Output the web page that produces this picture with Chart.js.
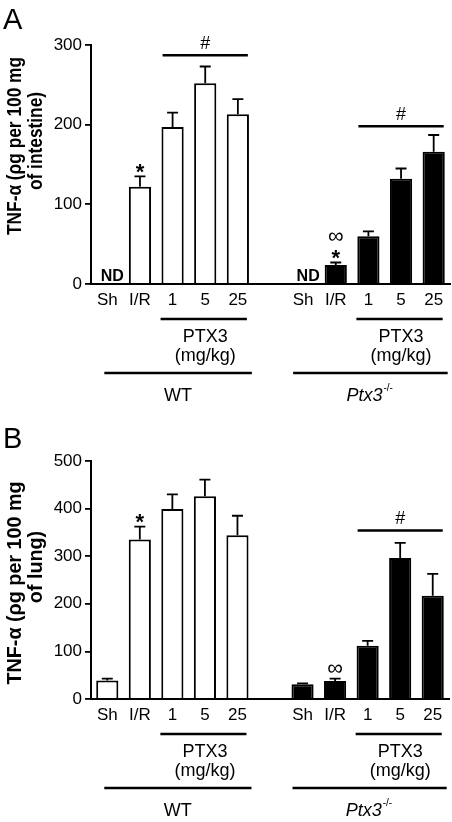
<!DOCTYPE html>
<html>
<head>
<meta charset="utf-8">
<script src="https://cdn.jsdelivr.net/npm/chart.js@4.4.0/dist/chart.umd.min.js"></script>
<style>
  html, body { margin: 0; padding: 0; background: #fff; }
  canvas { display: block; }
</style>
</head>
<body>
<canvas id="panel-a" width="452" height="411"></canvas>
<canvas id="panel-b" width="452" height="411"></canvas>
<script>
// x categories (empty slot separates WT and Ptx3-/- groups)
const categories = ['Sh', 'I/R', '1', '5', '25', '', 'Sh', 'I/R', '1', '5', '25'];

// A: TNF-alpha in intestine (pg per 100 mg); null = not detected
const wtIntestine = [null, 122, 197, 252, 213];
const wtIntestineErr = [0, 13, 18, 21, 19];
const koIntestine = [null, 24, 60, 132, 166];
const koIntestineErr = [0, 3, 6, 13, 21];
const intestineTicks = [0, 100, 200, 300];

// B: TNF-alpha in lung (pg per 100 mg)
const wtLung = [39, 335, 399, 426, 344];
const wtLungErr = [4, 27, 31, 35, 41];
const koLung = [31, 38, 112, 296, 217];
const koLungErr = [2, 5, 10, 32, 46];
const lungTicks = [0, 100, 200, 300, 400, 500];

// significance bars: [first index, last index, level]
const intestineSig = [[2, 4, 287], [8, 10, 198]];
const lungSig = [[8, 10, 354]];

const FONT = "'Liberation Sans', Arial, Helvetica, sans-serif";
Chart.defaults.font.family = FONT;
Chart.defaults.color = '#000';

// pad a 5-value group out to the 11 category slots
function wtSlots(arr) { return arr.concat([null, null, null, null, null, null]); }
function koSlots(arr) { return [null, null, null, null, null, null].concat(arr); }

const figurePlugin = {
  id: 'figure',
  afterDatasetsDraw(chart, args, o) {
    const ctx = chart.ctx;
    const x = chart.scales.x, y = chart.scales.y;
    const area = chart.chartArea;
    ctx.save();
    ctx.strokeStyle = '#000';
    ctx.fillStyle = '#000';

    // error bars (upper only)
    const errTop = {};
    chart.data.datasets.forEach((ds, di) => {
      chart.getDatasetMeta(di).data.forEach((bar, i) => {
        const v = ds.data[i];
        if (v === null || v === undefined) return;
        const top = y.getPixelForValue(v + ds.errors[i]);
        errTop[i] = top;
        ctx.lineWidth = 1.8;
        ctx.beginPath();
        ctx.moveTo(bar.x, bar.y);
        ctx.lineTo(bar.x, top);
        ctx.moveTo(bar.x - 5.5, top);
        ctx.lineTo(bar.x + 5.5, top);
        ctx.stroke();
      });
    });

    // ND for groups without a value
    ctx.font = 'bold 16px ' + FONT;
    ctx.textAlign = 'center';
    ctx.textBaseline = 'alphabetic';
    o.nd.forEach(i => ctx.fillText('ND', x.getPixelForValue(i) + 5, area.bottom - 3));

    // * and ∞ markers stacked above error bars
    o.marks.forEach(m => {
      const cx = x.getPixelForValue(m.index);
      m.text.forEach((t, k) => {
        const c = errTop[m.index] - 10 - 16 * k;
        ctx.textBaseline = 'alphabetic';
        if (t === '*') {
          ctx.font = 'bold 22px ' + FONT;
          ctx.fillText('*', cx, c + 12.5);
        } else {
          ctx.font = '22px ' + FONT;
          ctx.fillText(t, cx, c + 6.5);
        }
      });
    });

    // # significance lines
    o.sig.forEach(s => {
      const x1 = x.getPixelForValue(s[0]) - 10;
      const x2 = x.getPixelForValue(s[1]) + 10;
      const yy = y.getPixelForValue(s[2]);
      ctx.lineWidth = 2.5;
      ctx.beginPath();
      ctx.moveTo(x1, yy);
      ctx.lineTo(x2, yy);
      ctx.stroke();
      ctx.font = '18px ' + FONT;
      ctx.textBaseline = 'alphabetic';
      ctx.fillText('#', (x1 + x2) / 2, yy - 6);
    });

    // dose and genotype labels under the axis
    const b = area.bottom;
    [[2, 4, 0], [8, 10, 6]].forEach((g, gi) => {
      ctx.lineWidth = 2.5;
      ctx.beginPath();
      ctx.moveTo(x.getPixelForValue(g[0]) - 12, b + 35);
      ctx.lineTo(x.getPixelForValue(g[1]) + 9, b + 35);
      ctx.stroke();
      const mid = x.getPixelForValue((g[0] + g[1]) / 2);
      ctx.font = '18px ' + FONT;
      ctx.textBaseline = 'middle';
      ctx.textAlign = 'center';
      ctx.fillText('PTX3', mid, b + 53);
      ctx.fillText('(mg/kg)', mid, b + 72);

      const lx1 = x.getPixelForValue(g[2]) - (gi === 0 ? 3 : 10);
      const lx2 = x.getPixelForValue(g[1]) + 14;
      ctx.beginPath();
      ctx.moveTo(lx1, b + 89);
      ctx.lineTo(lx2, b + 89);
      ctx.stroke();
      const cm = (lx1 + lx2) / 2;
      if (gi === 0) {
        ctx.fillText('WT', cm, b + 112);
      } else {
        ctx.font = 'italic 18px ' + FONT;
        const w = ctx.measureText('Ptx3').width;
        ctx.textAlign = 'left';
        ctx.fillText('Ptx3', cm - w / 2 - 6, b + 112);
        ctx.font = '10px ' + FONT;
        ctx.fillText('-/-', cm + w / 2 - 5, b + 104);
      }
    });

    // panel letter
    ctx.font = '29px ' + FONT;
    ctx.textAlign = 'left';
    ctx.textBaseline = 'top';
    ctx.fillText(o.letter, 3, o.letterTop);

    // y axis title: two rotated lines, same glyph size, squeezed along the line to the printed length
    ctx.font = 'bold ' + o.titleSize + 'px ' + FONT;
    ctx.textAlign = 'center';
    ctx.textBaseline = 'middle';
    const squeeze = o.titleLen / ctx.measureText(o.title[0]).width;
    o.title.forEach((t, k) => {
      ctx.save();
      ctx.translate(o.titleX[k], o.titleY[k]);
      ctx.rotate(-Math.PI / 2);
      ctx.scale(squeeze, 1);
      ctx.fillText(t, 0, 0);
      ctx.restore();
    });
    ctx.restore();
  }
};

function makePanel(id, p) {
  return new Chart(document.getElementById(id), {
    type: 'bar',
    data: {
      labels: categories,
      datasets: [
        {
          label: 'WT',
          data: wtSlots(p.wt),
          errors: wtSlots(p.wtErr),
          backgroundColor: '#fff',
          borderColor: '#000',
          borderWidth: 2,
          grouped: false,
          barPercentage: 0.68,
          categoryPercentage: 1
        },
        {
          label: 'Ptx3-/-',
          data: koSlots(p.ko),
          errors: koSlots(p.koErr),
          backgroundColor: '#000',
          borderColor: '#000',
          borderWidth: 2,
          grouped: false,
          barPercentage: 0.68,
          categoryPercentage: 1
        }
      ]
    },
    options: {
      responsive: false,
      animation: false,
      devicePixelRatio: 1,
      layout: { padding: { left: 0, top: p.top, right: p.right, bottom: 0 } },
      plugins: {
        legend: { display: false },
        tooltip: { enabled: false },
        figure: p.fig
      },
      scales: {
        x: {
          offset: true,
          grid: { display: false, drawTicks: false },
          border: { color: '#000', width: 2 },
          ticks: { color: '#000', font: { size: 17 }, padding: 6, maxRotation: 0, autoSkip: false },
          afterFit: s => { s.height = p.xHeight; }
        },
        y: {
          min: 0,
          max: p.ticks[p.ticks.length - 1],
          afterBuildTicks: s => { s.ticks = p.ticks.map(v => ({ value: v })); },
          grid: { drawOnChartArea: false, drawTicks: true, tickLength: 6, color: '#000', lineWidth: 1.8 },
          border: { color: '#000', width: 2 },
          ticks: { color: '#000', font: { size: 17 }, padding: 3 },
          afterFit: s => { s.width = 91; }
        }
      }
    },
    plugins: [figurePlugin]
  });
}

makePanel('panel-a', {
  wt: wtIntestine, wtErr: wtIntestineErr, ko: koIntestine, koErr: koIntestineErr,
  ticks: intestineTicks, top: 45, right: 2, xHeight: 127,
  fig: {
    letter: 'A', letterTop: 6,
    nd: [0, 6],
    marks: [{ index: 1, text: ['*'] }, { index: 7, text: ['*', '∞'] }],
    sig: intestineSig,
    title: ['TNF-α (ρg per 100 mg', 'of intestine)'],
    titleSize: 20, titleLen: 178, titleX: [15, 36], titleY: [146, 141]
  }
});

makePanel('panel-b', {
  wt: wtLung, wtErr: wtLungErr, ko: koLung, koErr: koLungErr,
  ticks: lungTicks, top: 50, right: 3, xHeight: 123,
  fig: {
    letter: 'B', letterTop: 14,
    nd: [],
    marks: [{ index: 1, text: ['*'] }, { index: 7, text: ['∞'] }],
    sig: lungSig,
    title: ['TNF-α (ρg per 100 mg', 'of lung)'],
    titleSize: 21, titleLen: 203, titleX: [15, 36], titleY: [172, 156]
  }
});
</script>
</body>
</html>
